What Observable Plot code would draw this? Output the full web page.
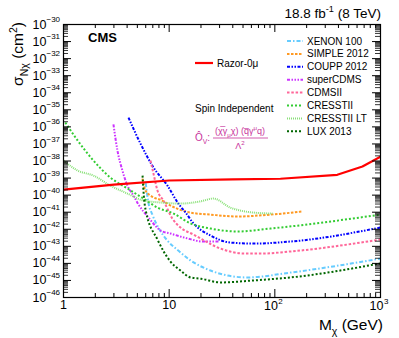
<!DOCTYPE html>
<html><head><meta charset="utf-8">
<script src="https://cdn.jsdelivr.net/npm/d3@7"></script>
<script src="https://cdn.jsdelivr.net/npm/@observablehq/plot@0.6"></script>
<style>body{margin:0;background:#fff}svg{display:block}</style>
</head><body><div id="chart"></div>
<script>
// ---- data (M in GeV, sigma in cm^2) ----
const razorM     = [1, 3, 10, 40, 113, 390, 675, 1000];
const razorSigma = [2.1e-40, 4.1e-40, 7.2e-40, 8.3e-40, 9.1e-40, 1.55e-39, 4.8e-39, 1.8e-38];

const xenonM     = [6.0, 6.3, 7.0, 8.0, 9.6, 12.2, 15.9, 24.6, 35.7, 55, 141, 1000];
const xenonSigma = [5.0e-40, 5.0e-41, 6.3e-42, 1.1e-42, 2.2e-43, 5.6e-44, 1.5e-44, 3.8e-45, 1.95e-45, 1.5e-45, 2.9e-45, 1.9e-44];

const simpleM     = [5.59, 5.97, 6.65, 8.6, 10.3, 15.9, 24.6, 44.3, 90.8, 183];
const simpleSigma = [9.3e-40, 1.86e-40, 9.5e-41, 4.8e-41, 2.45e-41, 9.5e-42, 7.2e-42, 5.6e-42, 7.2e-42, 1.1e-41];

const couppM     = [4.12, 5.35, 7.1, 9.64, 12.2, 14.3, 17.0, 24.6, 38, 63, 141, 1000];
const couppSigma = [3.5e-36, 1.05e-37, 4.2e-39, 3.6e-40, 3.2e-41, 9.5e-42, 2.2e-42, 4.3e-43, 1.66e-43, 1.45e-43, 1.9e-43, 1.26e-42];

const superM     = [2.97, 3.24, 3.61, 4.03, 4.59, 5.13, 6.37, 8.27, 10.3, 14.9, 21.1, 30];
const superSigma = [1.4e-36, 4.1e-38, 2.75e-39, 3.6e-40, 9.5e-41, 2.8e-41, 4.9e-42, 8.5e-43, 5.6e-43, 2.9e-43, 1.9e-43, 1.9e-43];

const cdmsM     = [6.65, 7.1, 7.75, 8.83, 10.7, 12.8, 17, 30.6, 50.5, 78, 141, 1000];
const cdmsSigma = [1.07e-38, 1.86e-39, 1.86e-40, 4.8e-41, 4.3e-42, 1.26e-42, 4.9e-43, 7.4e-44, 3.8e-44, 3.8e-44, 5.0e-44, 2.5e-43];

const cresstM     = [1.04, 1.36, 1.92, 2.78, 4.03, 5.71, 7.75, 11.0, 15.9, 24.6, 44.3, 90.8, 1000];
const cresstSigma = [1.8e-36, 1.6e-37, 1.07e-38, 1.07e-39, 2.45e-40, 6.3e-41, 1.86e-41, 8.3e-42, 2.2e-42, 1.1e-42, 7.4e-43, 1.1e-42, 7.2e-42];

const cresstLTM     = [1.0, 1.36, 1.92, 2.78, 4.03, 5.71, 8.27, 12.8, 19.8, 26.2, 37.9, 62.9, 95];
const cresstLTSigma = [1.07e-38, 2.75e-39, 1.4e-39, 3.6e-40, 1.23e-40, 4.8e-41, 3.7e-41, 3.2e-41, 4.3e-41, 6.3e-41, 1.86e-41, 9.5e-42, 8.3e-42];

const luxM     = [5.6, 5.75, 6.0, 7.75, 10.3, 12.8, 15.9, 20, 30.6, 63, 141, 1000];
const luxSigma = [1.4e-39, 1.0e-40, 1.26e-41, 2.5e-43, 1.26e-44, 3.8e-45, 1.5e-45, 1.26e-45, 7.6e-46, 1.0e-45, 1.5e-45, 1.0e-44];

const seriesNames = ["XENON 100", "SIMPLE 2012", "COUPP 2012", "superCDMS", "CDMSII", "CRESSTII", "CRESSTII LT", "LUX 2013"];
const seriesM     = [xenonM, simpleM, couppM, superM, cdmsM, cresstM, cresstLTM, luxM];
const seriesSigma = [xenonSigma, simpleSigma, couppSigma, superSigma, cdmsSigma, cresstSigma, cresstLTSigma, luxSigma];

// tick values & labels
const xMajor = [1, 10, 100, 1000];
const xTickBase = ["1", "10", "10", "10"];
const xTickExp  = ["", "", "2", "3"];
const yMajor = [1e-30,1e-31,1e-32,1e-33,1e-34,1e-35,1e-36,1e-37,1e-38,1e-39,1e-40,1e-41,1e-42,1e-43,1e-44,1e-45,1e-46];
const yTickExp = ["−30","−31","−32","−33","−34","−35","−36","−37","−38","−39","−40","−41","−42","−43","−44","−45","−46"];

// ---- styles ----
const seriesStyle = [
  {color: "#66ccff", dash: "4,2,1.5,2"},
  {color: "#ff9922", dash: "2.5,1.5"},
  {color: "#0000ff", dash: "3,1.5,1.5,1.5,1.5,1.5"},
  {color: "#cc33ff", dash: "3,1.5,1.5,1.5,1.5,1.5,1.5,1.5"},
  {color: "#ff6699", dash: "2.5,1.8"},
  {color: "#33cc33", dash: "2,2"},
  {color: "#88e077", dash: "1,1"},
  {color: "#006600", dash: "2,2"}
];

const W = 399, H = 338, mL = 63, mR = 19, mT = 24, mB = 41;
const pw = W - mL - mR, ph = H - mT - mB;

const xMinor = xMajor.slice(0, 3).flatMap(d => [2,3,4,5,6,7,8,9].map(k => k * d));
const yMinor = yMajor.slice(1).flatMap(d => [2,3,4,5,6,7,8,9].map(k => k * d));

const rows = (ms, ss) => ms.map((m, i) => ({m, s: ss[i]}));

const lines = seriesNames.map((n, i) => Plot.line(rows(seriesM[i], seriesSigma[i]), {
  x: "m", y: "s", stroke: seriesStyle[i].color, strokeWidth: 2,
  strokeDasharray: seriesStyle[i].dash, strokeLinecap: "butt", curve: "monotone-x", clip: true
}));

const plot = Plot.plot({
  width: W, height: H,
  marginLeft: mL, marginRight: mR, marginTop: mT, marginBottom: mB,
  style: {fontFamily: "'Liberation Sans', Arial, Helvetica, sans-serif", background: "#fff", color: "#000"},
  x: {type: "log", domain: [1, 1000], axis: null},
  y: {type: "log", domain: [1e-46, 1e-30], axis: null},
  marks: [
    ...lines,
    Plot.line(rows(razorM, razorSigma), {x: "m", y: "s", stroke: "#ff0000", strokeWidth: 2.2, clip: true}),
    // ticks (inward, ROOT style)
    Plot.ruleY(yMajor, {y: d => d, insetRight: pw - 8, stroke: "#000"}),
    Plot.ruleY(yMajor, {y: d => d, insetLeft: pw - 8, stroke: "#000"}),
    Plot.ruleY(yMinor, {y: d => d, insetRight: pw - 5, stroke: "#000", strokeWidth: 0.8}),
    Plot.ruleY(yMinor, {y: d => d, insetLeft: pw - 5, stroke: "#000", strokeWidth: 0.8}),
    Plot.ruleX(xMajor, {x: d => d, insetTop: ph - 8, stroke: "#000"}),
    Plot.ruleX(xMajor, {x: d => d, insetBottom: ph - 8, stroke: "#000"}),
    Plot.ruleX(xMinor, {x: d => d, insetTop: ph - 4, stroke: "#000"}),
    Plot.ruleX(xMinor, {x: d => d, insetBottom: ph - 4, stroke: "#000"}),
    Plot.frame({stroke: "#000", strokeWidth: 1.2}),
    // y tick labels
    Plot.text(yMajor, {y: d => d, text: () => "10", frameAnchor: "left", textAnchor: "end", dx: -17, fontSize: 12.5}),
    Plot.text(yMajor, {y: d => d, text: (d, i) => yTickExp[i], frameAnchor: "left", textAnchor: "start", dx: -17, dy: -5, fontSize: 8}),
    // x tick labels
    Plot.text(xMajor.slice(0, 2), {x: d => d, text: (d, i) => xTickBase[i], frameAnchor: "bottom", dy: 11, fontSize: 12.5}),
    Plot.text(xMajor.slice(2), {x: d => d, text: (d, i) => xTickBase[i + 2], frameAnchor: "bottom", textAnchor: "end", dy: 12, dx: 3, fontSize: 12.5}),
    Plot.text(xMajor.slice(2), {x: d => d, text: (d, i) => xTickExp[i + 2], frameAnchor: "bottom", textAnchor: "start", dy: 6, dx: 3.5, fontSize: 8})
  ]
});
document.getElementById("chart").appendChild(plot);

// ---- annotations (titles, legend) ----
const svg = d3.select(plot);
const g = svg.append("g").attr("font-family", "'Liberation Sans', Arial, Helvetica, sans-serif")
  .attr("fill", "#000").attr("text-anchor", "start");

function rich(parent, x, y, size, anchor, parts) {
  const t = parent.append("text").attr("x", x).attr("y", y).attr("font-size", size).attr("text-anchor", anchor);
  let cur = 0;
  for (const [s, mode] of parts) {
    const target = mode === "sub" ? size * 0.3 : mode === "sup" ? -size * 0.42 : 0;
    t.append("tspan").attr("dy", target - cur).attr("font-size", mode ? size * 0.68 : size).text(s);
    cur = target;
  }
  return t;
}

// axis titles
rich(g, 383, 330, 15.5, "end", [["M", ""], ["χ", "sub"], [" (GeV)", ""]]);
rich(g.append("g").attr("transform", "translate(23,22) rotate(-90)"), 0, 0, 15.5, "end",
  [["σ", ""], ["Nχ", "sub"], [" (cm", ""], ["2", "sup"], [")", ""]]);

// header
rich(g, 381, 18, 13.5, "end", [["18.8 fb", ""], ["-1", "sup"], [" (8 TeV)", ""]]);
g.append("text").attr("x", 88).attr("y", 42).attr("font-size", 13).attr("font-weight", "bold").text("CMS");

// razor legend
g.append("line").attr("x1", 195).attr("x2", 213).attr("y1", 63).attr("y2", 63).attr("stroke", "#ff0000").attr("stroke-width", 2.2);
g.append("text").attr("x", 217).attr("y", 63).attr("dy", "0.35em").attr("font-size", 10).text("Razor-0μ");

// experiments legend
seriesNames.forEach((n, i) => {
  const y = 41 + i * 12.9;
  g.append("line").attr("x1", 287).attr("x2", 303).attr("y1", y).attr("y2", y)
    .attr("stroke", seriesStyle[i].color).attr("stroke-width", 2).attr("stroke-dasharray", seriesStyle[i].dash);
  g.append("text").attr("x", 307).attr("y", y).attr("dy", "0.35em").attr("font-size", 10).text(n);
});

// spin independent + operator
g.append("text").attr("x", 195).attr("y", 112).attr("font-size", 10).text("Spin Independent");
const mag = g.append("g").attr("fill", "#c8329b");
rich(mag, 195, 141, 10, "start", [["Ô", ""], ["V", "sub"], [":", ""]]);
rich(mag, 240, 134, 9, "middle", [["(χ\u0305γ", ""], ["μ", "sub"], ["χ) (q\u0305γ", ""], ["μ", "sup"], ["q)", ""]]);
mag.append("line").attr("x1", 213).attr("x2", 268).attr("y1", 138).attr("y2", 138).attr("stroke", "#c8329b").attr("stroke-width", 0.8);
rich(mag, 240, 149, 9, "middle", [["Λ", ""], ["2", "sup"]]);
</script>
</body></html>
